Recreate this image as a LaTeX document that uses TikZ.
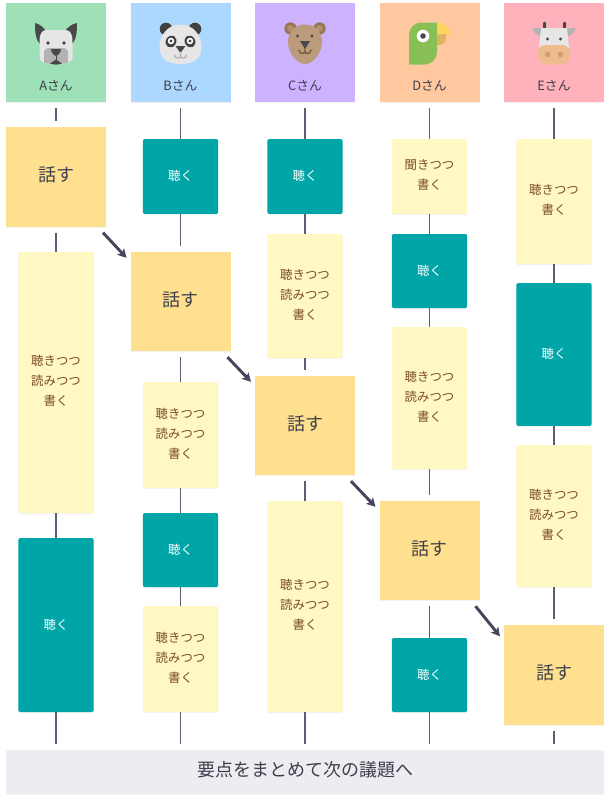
\documentclass[tikz,border=0pt]{standalone}
\usepackage{fontspec}
\setmainfont{Noto Sans CJK JP}
\usetikzlibrary{arrows.meta,shadows,calc}
\definecolor{hA}{HTML}{9EE0B7}\definecolor{hB}{HTML}{ACD7FF}\definecolor{hC}{HTML}{CDB2FF}
\definecolor{hD}{HTML}{FFC89F}\definecolor{hE}{HTML}{FFB2BB}
\definecolor{talk}{HTML}{FFE08E}\definecolor{stick}{HTML}{FFF8C2}\definecolor{listen}{HTML}{00A5A8}
\definecolor{barc}{HTML}{ECECF1}\definecolor{linec}{HTML}{5C5E72}\definecolor{arrowc}{HTML}{45465E}
\definecolor{brownt}{HTML}{7A4A28}\definecolor{darkt}{HTML}{3E3F4C}
\definecolor{gr1}{HTML}{E6E6E6}\definecolor{gr2}{HTML}{B3B3B3}\definecolor{gr3}{HTML}{484848}
\definecolor{bear}{HTML}{BC9A7C}\definecolor{bear2}{HTML}{9A7550}\definecolor{parrot}{HTML}{88C057}
\definecolor{beak}{HTML}{FFD45E}\definecolor{beak2}{HTML}{E0B35E}\definecolor{muzzle}{HTML}{EDBC8C}\definecolor{nost}{HTML}{D69C6F}
\newcommand{\lift}{\rule[-2.6pt]{0pt}{1pt}}
\tikzset{
  x=0.75pt,y=-0.75pt,
  softshadow/.style={drop shadow={shadow xshift=0pt,shadow yshift=-0.9pt,opacity=.05,fill=black}},
  base/.style={inner sep=0pt,outer sep=0pt,align=center,softshadow},
  header/.style={base,rectangle,minimum width=75pt,minimum height=74.5pt},
  headlabel/.style={inner sep=0pt,font=\fontsize{9.6}{12}\selectfont,text=darkt},
  talkbox/.style={base,fill=talk,minimum width=75pt,minimum height=74.5pt,font=\fontsize{13.5}{16}\selectfont,text=darkt,text height=10pt,text depth=3.2pt},
  stickbox/.style={base,fill=stick,rounded corners=1.5pt,minimum width=56.5pt,font=\fontsize{9.3}{15}\selectfont,text=brownt},
  listenbox/.style={base,fill=listen,rounded corners=1.5pt,minimum width=56.5pt,font=\fontsize{9.3}{15}\selectfont,text=white,text height=7.5pt,text depth=1.5pt},
  barbox/.style={base,fill=barc,rounded corners=2pt,minimum width=448.5pt,minimum height=33pt,font=\fontsize{13.5}{16}\selectfont,text=darkt,text height=10pt,text depth=4pt},
  conn/.style={draw=linec,line width=1.1pt},
  gapa/.style={shorten <=4.5pt},
  gapb/.style={shorten >=4.5pt},
  flow/.style={draw=arrowc,line width=2.2pt,-{Stealth[length=6.5pt,width=7pt,inset=1.5pt]}},
}
\begin{document}
\begin{tikzpicture}
\useasboundingbox (0,0) rectangle (610,800);
% headers
\node[header,fill=hA] (ha) at (56,52.5) {};
\node[header,fill=hB] (hb) at (180.5,52.5) {};
\node[header,fill=hC] (hc) at (305,52.5) {};
\node[header,fill=hD] (hd) at (429.5,52.5) {};
\node[header,fill=hE] (he) at (554,52.5) {};
\node[headlabel] (ta) at (56,85.5) {Aさん};
\node[headlabel] (tb) at (180.5,85.5) {Bさん};
\node[headlabel] (tc) at (305,85.5) {Cさん};
\node[headlabel] (td) at (429.5,85.5) {Dさん};
\node[headlabel] (te) at (554,85.5) {Eさん};
% column A
\node[talkbox] (a1) at (56,177) {話す};
\node[stickbox,minimum height=196pt] (a2) at (56,382.5) {聴きつつ\\読みつつ\\書く\lift};
\node[listenbox,minimum height=130.5pt] (a3) at (56,625) {聴く};
% column B
\node[listenbox,minimum height=56.2pt] (b1) at (180.5,176.5) {聴く};
\node[talkbox] (b2) at (180.5,301.5) {話す};
\node[stickbox,minimum height=79.5pt] (b3) at (180.5,435) {聴きつつ\\読みつつ\\書く\lift};
\node[listenbox,minimum height=55.5pt] (b4) at (180.5,550) {聴く};
\node[stickbox,minimum height=79.5pt] (b5) at (180.5,659) {聴きつつ\\読みつつ\\書く\lift};
% column C
\node[listenbox,minimum height=56.2pt] (c1) at (305,176.5) {聴く};
\node[stickbox,minimum height=93pt] (c2) at (305,296) {聴きつつ\\読みつつ\\書く\lift};
\node[talkbox] (c3) at (305,425.5) {話す};
\node[stickbox,minimum height=158.2pt] (c4) at (305,606.5) {聴きつつ\\読みつつ\\書く\lift};
% column D
\node[stickbox,minimum height=56.2pt] (d1) at (429.5,176.5) {聞きつつ\\書く\lift};
\node[listenbox,minimum height=55.5pt] (d2) at (429.5,271) {聴く};
\node[stickbox,minimum height=106.5pt] (d3) at (429.5,398) {聴きつつ\\読みつつ\\書く\lift};
\node[talkbox] (d4) at (429.5,550.5) {話す};
\node[listenbox,minimum height=55.5pt] (d5) at (429.5,675) {聴く};
% column E
\node[stickbox,minimum height=93.7pt] (e1) at (554,201.5) {聴きつつ\\書く\lift};
\node[listenbox,minimum height=107.2pt] (e2) at (554,354.5) {聴く};
\node[stickbox,minimum height=106.5pt] (e3) at (554,516) {聴きつつ\\読みつつ\\書く\lift};
\node[talkbox] (e4) at (554,675) {話す};
% bar
\node[barbox] (bar) at (305,772) {要点をまとめて次の議題へ};
% connectors
\draw[conn,gapa,gapb] (ha.south) -- (a1.north);
\draw[conn,gapa] (a1.south) -- (a2.north);
\draw[conn] (a2.south) -- (a3.north);
\draw[conn,gapb] (a3.south) -- (a3.south |- bar.north);
\draw[conn,gapa] (hb.south) -- (b1.north);
\draw[conn,gapb] (b1.south) -- (b2.north);
\draw[conn,gapa] (b2.south) -- (b3.north);
\draw[conn] (b3.south) -- (b4.north);
\draw[conn] (b4.south) -- (b5.north);
\draw[conn,gapb] (b5.south) -- (b5.south |- bar.north);
\draw[conn,gapa] (hc.south) -- (c1.north);
\draw[conn] (c1.south) -- (c2.north);
\draw[conn,gapb] (c2.south) -- (c3.north);
\draw[conn,gapa] (c3.south) -- (c4.north);
\draw[conn,gapb] (c4.south) -- (c4.south |- bar.north);
\draw[conn,gapa] (hd.south) -- (d1.north);
\draw[conn] (d1.south) -- (d2.north);
\draw[conn] (d2.south) -- (d3.north);
\draw[conn,gapb] (d3.south) -- (d4.north);
\draw[conn,gapa] (d4.south) -- (d5.north);
\draw[conn,gapb] (d5.south) -- (d5.south |- bar.north);
\draw[conn,gapa] (he.south) -- (e1.north);
\draw[conn] (e1.south) -- (e2.north);
\draw[conn] (e2.south) -- (e3.north);
\draw[conn,gapb] (e3.south) -- (e4.north);
\draw[conn,gapa,gapb] (e4.south) -- (e4.south |- bar.north);
% arrows between the speakers
\draw[flow] ([shift={(-3,6)}]a1.south east) -- ([shift={(-4,6)}]b2.north west);
\draw[flow] ([shift={(-3,6)}]b2.south east) -- ([shift={(-4,6)}]c3.north west);
\draw[flow] ([shift={(-4,6)}]c3.south east) -- ([shift={(-4,6)}]d4.north west);
\draw[flow] ([shift={(-4,6)}]d4.south east) -- ([shift={(-4,11)}]e4.north west);
% dog
\fill[gr3] (35,23) .. controls (40,24) and (45,28) .. (47,34) -- (40,44) .. controls (36,40) and (35,34) .. (35,23) -- cycle;
\fill[gr3] (77,23) .. controls (72,24) and (67,27) .. (64,33) -- (72,44) .. controls (76,40) and (77,34) .. (77,23) -- cycle;
\fill[gr1] (39.5,42) .. controls (39.5,33) and (42,30) .. (47,30) -- (65,30) .. controls (70,30) and (72.5,33) .. (72.5,42) -- (72.5,58) .. controls (72.5,60) and (71,61) .. (68,63) -- (44,63) .. controls (41,61) and (39.5,60) .. (39.5,58) -- cycle;
\fill[gr2] (44,63) -- (44,52) .. controls (44,49) and (46,48) .. (49,48) -- (63,48) .. controls (66,48) and (68,49) .. (68,52) -- (68,63) -- (60,63) -- (56,60) -- (52,63) -- cycle;
\fill[gr3] (48,43) circle (1.8) (64,43) circle (1.8);
\fill[gr3] (51,49) -- (61,49) .. controls (61,52) and (58,56) .. (56,56) .. controls (54,56) and (51,52) .. (51,49) -- cycle;
\draw[gr3,line width=.6pt] (56,56) -- (56,60);
\fill[gr3] (50,63.5) -- (56,59.5) -- (62,63.5) .. controls (58,65) and (54,65) .. (50,63.5) -- cycle;
% panda
\fill[gr3!90!black] (166,29) circle (6.3) (195,29) circle (6.3);
\fill[gr1] (180.5,24.5) .. controls (193,24.5) and (201.5,35) .. (201.5,47) .. controls (201.5,58) and (194,64) .. (180.5,64) .. controls (167,64) and (159.5,58) .. (159.5,47) .. controls (159.5,35) and (168,24.5) .. (180.5,24.5) -- cycle;
\fill[gr3!90!black,rotate around={-30:(171,41.5)}] (171,41.5) ellipse (5.2 and 6.2);
\fill[gr3!90!black,rotate around={30:(190,41.5)}] (190,41.5) ellipse (5.2 and 6.2);
\fill[white] (171,41) circle (3.3) (190,41) circle (3.3);
\fill[gr3] (171,41) circle (1.7) (190,41) circle (1.7);
\fill[gr3] (175.5,46) -- (185.5,46) -- (180.5,53) -- cycle;
\draw[gr2,line width=1pt,line cap=round] (180.5,52) -- (180.5,57) (174.5,55) .. controls (175,58.5) and (179,59) .. (180.5,57) .. controls (182,59) and (186,58.5) .. (186.5,55);
% bear
\fill[bear2] (290.5,28.5) circle (6.2) (319.5,28.5) circle (6.2);
\fill[bear!70!bear2] (290.5,28.5) circle (3.4) (319.5,28.5) circle (3.4);
\fill[bear] (305,24.5) .. controls (317,24.5) and (322,34) .. (322,42) .. controls (322,53) and (313,64) .. (305,64) .. controls (297,64) and (288,53) .. (288,42) .. controls (288,34) and (293,24.5) .. (305,24.5) -- cycle;
\fill[gr3] (297.5,36) circle (1.7) (312,36) circle (1.7);
\fill[gr3] (300,41) -- (310,41) -- (305,49) -- cycle;
\draw[bear2!75!black,line width=1pt,line cap=round] (305,48) -- (305,52) (299,50) .. controls (299.5,54) and (303.5,54.5) .. (305,52) .. controls (306.5,54.5) and (310.5,54) .. (311,50);
% parrot
\fill[beak2] (437,34) -- (446,34) .. controls (447,42) and (444,45) .. (437,45) -- cycle;
\fill[beak] (437,22.5) .. controls (445,22.5) and (450,28) .. (451,35.5) .. controls (447,33) and (442,33) .. (437,35) -- cycle;
\fill[parrot] (409,64.5) -- (409,35) .. controls (409,28) and (414,22.5) .. (422,22.5) -- (437,22.5) -- (437,52) .. controls (437,59) and (432,64.5) .. (424,64.5) -- cycle;
\fill[white] (423,36) circle (6.3);
\fill[gr3] (423,36) circle (2.8);
% cow
\fill[gr2] (532,28) -- (544,28) -- (544,37) .. controls (538,37) and (534,33) .. (532,28) -- cycle;
\fill[gr2] (576,28) -- (564,28) -- (564,37) .. controls (570,37) and (574,33) .. (576,28) -- cycle;
\fill[gr3] (543,23) rectangle (546,28.5) (563,23) rectangle (566,28.5);
\fill[gr3] (544.5,23) circle (1.5) (564.5,23) circle (1.5);
\fill[gr1] (541,28) -- (567,28) -- (569,48) -- (539,48) -- cycle;
\fill[muzzle] (538,54) .. controls (538,48) and (541,45) .. (546,45) -- (562,45) .. controls (567,45) and (570,48) .. (570,54) -- (570,56) .. controls (570,61) and (566,64.5) .. (561,64.5) -- (547,64.5) .. controls (542,64.5) and (538,61) .. (538,56) -- cycle;
\fill[gr3] (547.5,39) circle (1.7) (560.5,39) circle (1.7);
\fill[nost] (547.5,54.5) circle (2.8) (560.5,54.5) circle (2.8);
\end{tikzpicture}
\end{document}
